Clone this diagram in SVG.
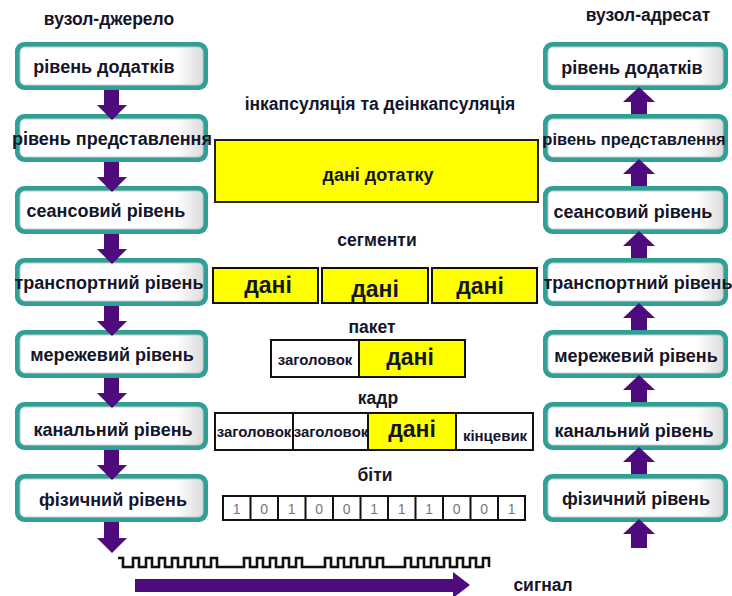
<svg xmlns="http://www.w3.org/2000/svg" width="732" height="596" viewBox="0 0 732 596">
  <style>
    .lbl { font-family: "Liberation Sans", Arial, sans-serif; font-weight: bold; fill: #15152a; text-anchor: middle; }
    .node-text { font-size: 18px; }
    .node-text.tight { font-size: 16.5px; }
    .title { font-size: 17.5px; }
    .big { font-size: 23px; }
    .small { font-size: 15px; }
    .bit { font-family: "Liberation Sans", Arial, sans-serif; font-size: 14px; fill: #777; text-anchor: middle; }
    .frame { fill: #2fa096; }
    .inner { fill: url(#boxFill); stroke: #c8c8c8; stroke-width: 1; }
    .arrow { fill: #4d0b7e; }
    .cell { stroke: #111; stroke-width: 2; }
    .yellow { fill: #ffff00; }
  </style>
  <defs>
    <linearGradient id="boxFill" x1="0" y1="0" x2="1" y2="0">
      <stop offset="0" stop-color="#ffffff"/>
      <stop offset="0.85" stop-color="#ffffff"/>
      <stop offset="1" stop-color="#dcdcdc"/>
    </linearGradient>
  </defs>

  <rect width="732" height="596" fill="#ffffff"/>

  <!-- column headings -->
  <text class="lbl title" x="109" y="25">вузол-джерело</text>
  <text class="lbl title" x="648" y="21">вузол-адресат</text>

  <!-- source stack -->
  <g id="src-app"><rect class="frame" x="15" y="42" width="193" height="48" rx="9"/><rect class="inner" x="20" y="47" width="183" height="38" rx="5"/><text class="lbl node-text" x="104" y="73">рівень додатків</text></g>
  <g id="src-pres"><rect class="frame" x="15" y="114" width="193" height="48" rx="9"/><rect class="inner" x="20" y="119" width="183" height="38" rx="5"/><text class="lbl node-text" x="112" y="145">рівень представлення</text></g>
  <g id="src-sess"><rect class="frame" x="15" y="186" width="193" height="48" rx="9"/><rect class="inner" x="20" y="191" width="183" height="38" rx="5"/><text class="lbl node-text" x="106" y="217">сеансовий рівень</text></g>
  <g id="src-trans"><rect class="frame" x="15" y="258" width="193" height="48" rx="9"/><rect class="inner" x="20" y="263" width="183" height="38" rx="5"/><text class="lbl node-text" x="109" y="289">транспортний рівень</text></g>
  <g id="src-net"><rect class="frame" x="15" y="330" width="193" height="48" rx="9"/><rect class="inner" x="20" y="335" width="183" height="38" rx="5"/><text class="lbl node-text" x="112" y="361">мережевий рівень</text></g>
  <g id="src-link"><rect class="frame" x="15" y="402" width="193" height="48" rx="9"/><rect class="inner" x="20" y="407" width="183" height="38" rx="5"/><text class="lbl node-text" x="113" y="436">канальний рівень</text></g>
  <g id="src-phys"><rect class="frame" x="15" y="474" width="193" height="48" rx="9"/><rect class="inner" x="20" y="479" width="183" height="38" rx="5"/><text class="lbl node-text" x="113" y="506">фізичний рівень</text></g>

  <!-- destination stack -->
  <g id="dst-app"><rect class="frame" x="543" y="42" width="185" height="48" rx="9"/><rect class="inner" x="548" y="47" width="175" height="38" rx="5"/><text class="lbl node-text" x="632" y="74">рівень додатків</text></g>
  <g id="dst-pres"><rect class="frame" x="543" y="114" width="185" height="48" rx="9"/><rect class="inner" x="548" y="119" width="175" height="38" rx="5"/><text class="lbl node-text tight" x="634" y="145">рівень представлення</text></g>
  <g id="dst-sess"><rect class="frame" x="543" y="186" width="185" height="48" rx="9"/><rect class="inner" x="548" y="191" width="175" height="38" rx="5"/><text class="lbl node-text" x="633" y="218">сеансовий рівень</text></g>
  <g id="dst-trans"><rect class="frame" x="543" y="258" width="185" height="48" rx="9"/><rect class="inner" x="548" y="263" width="175" height="38" rx="5"/><text class="lbl node-text" x="638" y="289">транспортний рівень</text></g>
  <g id="dst-net"><rect class="frame" x="543" y="330" width="185" height="48" rx="9"/><rect class="inner" x="548" y="335" width="175" height="38" rx="5"/><text class="lbl node-text" x="636" y="362">мережевий рівень</text></g>
  <g id="dst-link"><rect class="frame" x="543" y="402" width="185" height="48" rx="9"/><rect class="inner" x="548" y="407" width="175" height="38" rx="5"/><text class="lbl node-text" x="634" y="437">канальний рівень</text></g>
  <g id="dst-phys"><rect class="frame" x="543" y="474" width="185" height="48" rx="9"/><rect class="inner" x="548" y="479" width="175" height="38" rx="5"/><text class="lbl node-text" x="636" y="505">фізичний рівень</text></g>

  <!-- layer-to-layer arrows -->
  <g id="connectors">
    <path class="arrow" d="M104,90 H119 V105 H127 L112,120 L97,105 H104 Z"/>
    <path class="arrow" d="M104,162 H119 V177 H127 L112,192 L97,177 H104 Z"/>
    <path class="arrow" d="M104,234 H119 V249 H127 L112,264 L97,249 H104 Z"/>
    <path class="arrow" d="M104,306 H119 V321 H127 L112,336 L97,321 H104 Z"/>
    <path class="arrow" d="M104,378 H119 V393 H127 L112,408 L97,393 H104 Z"/>
    <path class="arrow" d="M104,450 H119 V465 H127 L112,480 L97,465 H104 Z"/>
    <path class="arrow" d="M104,522 H119 V538 H127 L112,553 L97,538 H104 Z"/>

    <path class="arrow" d="M631,114 V102 H623 L639,87 L655,102 H647 V114 Z"/>
    <path class="arrow" d="M631,186 V174 H623 L639,159 L655,174 H647 V186 Z"/>
    <path class="arrow" d="M631,258 V246 H623 L639,231 L655,246 H647 V258 Z"/>
    <path class="arrow" d="M631,330 V318 H623 L639,303 L655,318 H647 V330 Z"/>
    <path class="arrow" d="M631,402 V390 H623 L639,375 L655,390 H647 V402 Z"/>
    <path class="arrow" d="M631,474 V462 H623 L639,447 L655,462 H647 V474 Z"/>
    <path class="arrow" d="M631,548 V534 H623 L639,519 L655,534 H647 V548 Z"/>

    <!-- signal arrow -->
    <path class="arrow" d="M135,579 H453 V572 L470,585 L453,598 V592 H135 Z"/>
  </g>

  <!-- encapsulation column -->
  <text class="lbl title" x="380" y="110">інкапсуляція та деінкапсуляція</text>

  <g id="app-data">
    <rect x="215" y="140" width="323" height="62" fill="#ffff00" stroke="#222" stroke-width="2"/>
    <text class="lbl node-text" x="378" y="181">дані дотатку</text>
  </g>

  <text class="lbl title" x="377" y="246">сегменти</text>
  <g id="segments">
    <rect class="yellow cell" x="213" y="268" width="105" height="35"/>
    <rect class="yellow cell" x="322" y="268" width="106" height="35"/>
    <rect class="yellow cell" x="432" y="268" width="105" height="35"/>
    <text class="lbl big" x="268" y="293">дані</text>
    <text class="lbl big" x="375" y="297">дані</text>
    <text class="lbl big" x="480" y="294">дані</text>
  </g>

  <text class="lbl title" x="372" y="333">пакет</text>
  <g id="packet">
    <rect x="271" y="340" width="88" height="37" fill="#ffffff" class="cell"/>
    <rect x="359" y="340" width="106" height="37" class="yellow cell"/>
    <text class="lbl small" x="315" y="365">заголовок</text>
    <text class="lbl big" x="410" y="365">дані</text>
  </g>

  <text class="lbl title" x="378" y="404">кадр</text>
  <g id="frame">
    <rect x="215" y="413" width="78" height="37" fill="#ffffff" class="cell"/>
    <rect x="293" y="413" width="75" height="37" fill="#ffffff" class="cell"/>
    <rect x="368" y="413" width="88" height="37" class="yellow cell"/>
    <rect x="456" y="413" width="77" height="37" fill="#ffffff" class="cell"/>
    <text class="lbl small" x="254" y="437">заголовок</text>
    <text class="lbl small" x="331" y="437">заголовок</text>
    <text class="lbl big" x="412" y="437">дані</text>
    <text class="lbl small" x="495" y="441">кінцевик</text>
  </g>

  <text class="lbl title" x="375" y="481">біти</text>
  <g id="bits">
    <rect x="223" y="496" width="302" height="24" fill="#ffffff" class="cell"/>
    <path d="M250.5,496 V520 M278,496 V520 M305.5,496 V520 M333,496 V520 M360.5,496 V520 M388,496 V520 M415.5,496 V520 M443,496 V520 M470.5,496 V520 M498,496 V520" stroke="#111" stroke-width="2"/>
    <text class="bit" x="236.7" y="514">1</text>
    <text class="bit" x="264.2" y="514">0</text>
    <text class="bit" x="291.7" y="514">1</text>
    <text class="bit" x="319.2" y="514">0</text>
    <text class="bit" x="346.7" y="514">0</text>
    <text class="bit" x="374.2" y="514">1</text>
    <text class="bit" x="401.7" y="514">1</text>
    <text class="bit" x="429.2" y="514">1</text>
    <text class="bit" x="456.7" y="514">0</text>
    <text class="bit" x="484.2" y="514">0</text>
    <text class="bit" x="511.7" y="514">1</text>
  </g>

  <!-- line signal waveform -->
  <path id="waveform" fill="none" stroke="#111" stroke-width="2.6" stroke-linejoin="miter" d="M118,558 H123 V567 H133
    V558 H139 V567 H146 V558 H152 V567 H159 V558 H165 V567 H172 V558 H178 V567 H185
    V558 H191 V567 H198 V558 H204 V567 H211 V558 H217 V567 H244
    V558 H250 V567 H257 V558 H263 V567 H270 V558 H276 V567 H283 V558 H289 V567 H296
    V558 H302 V567 H325
    V558 H331 V567 H338 V558 H344 V567 H351 V558 H357 V567 H364 V558 H370 V567 H377
    V558 H383 V567 H405
    V558 H411 V567 H418 V558 H424 V567 H431 V558 H437 V567 H444 V558 H450 V567 H457
    V558 H463 V567 H470 V558 H476 V567 H483 V558 H489 V567"/>

  <text class="lbl title" x="543" y="591">сигнал</text>
</svg>
